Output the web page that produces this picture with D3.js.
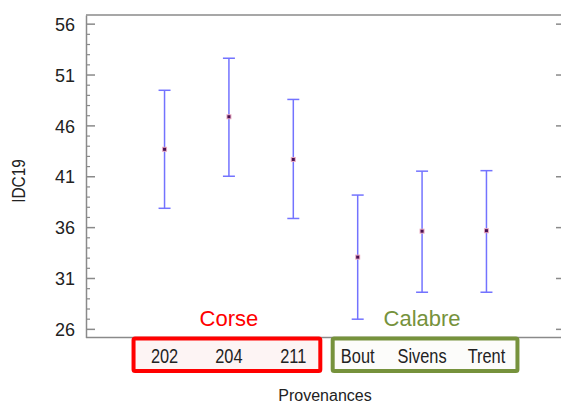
<!DOCTYPE html>
<html><head><meta charset="utf-8">
<script src="https://cdn.jsdelivr.net/npm/d3@7"></script>
<style>body{margin:0;background:#fff}svg{display:block}text{font-family:"Liberation Sans",Arial,sans-serif}</style>
</head><body>
<script>
const categories = ["202","204","211","Bout","Sivens","Trent"];
const means = [43.7, 46.9, 42.7, 33.1, 35.65, 35.7];
const upper = [49.5, 52.65, 48.6, 39.2, 41.55, 41.6];
const lower = [37.9, 41.05, 36.9, 27.0, 29.65, 29.65];
const yTicks = [26, 31, 36, 41, 46, 51, 56];
const groupNames = ["Corse", "Calabre"];
const groupMembers = [["202","204","211"], ["Bout","Sivens","Trent"]];
const yLabel = "IDC19";
const xLabel = "Provenances";

const W = 561, H = 403;
const L = 86, R = 565, T = 15, B = 337.5;
const svg = d3.select("body").append("svg").attr("width", W).attr("height", H);

const x = d3.scalePoint().domain(categories).range([L, R]).padding(1.22);
const y = d3.scaleLinear().domain([25.2, 56.9]).range([B, T]);

const axisCol = "#8a8a8a";
svg.append("line").attr("x1", L).attr("x2", R).attr("y1", T).attr("y2", T).attr("stroke", axisCol).attr("stroke-width", 1.5);
svg.append("line").attr("x1", L).attr("x2", R).attr("y1", B).attr("y2", B).attr("stroke", axisCol).attr("stroke-width", 1.5);

const minor = d3.range(26, 57, 1);
const gl = svg.append("g").attr("transform", `translate(${L},0)`)
  .call(d3.axisLeft(y).tickValues(yTicks).tickSize(0).tickPadding(11).tickFormat(d3.format("d")));
gl.select(".domain").attr("stroke", axisCol).attr("stroke-width", 1.5);
gl.selectAll("text").attr("font-size", 18).attr("fill", "#222").attr("dy", "0.34em");
gl.selectAll(".mj").data(yTicks).join("line").attr("x1", 0).attr("x2", 9).attr("y1", d => y(d)).attr("y2", d => y(d)).attr("stroke", axisCol).attr("stroke-width", 1.5);
gl.selectAll(".mn").data(minor.filter(v => !yTicks.includes(v))).join("line").attr("x1", 0).attr("x2", 4).attr("y1", d => y(d)).attr("y2", d => y(d)).attr("stroke", axisCol).attr("stroke-width", 1.2);
const gr = svg.append("g").attr("transform", `translate(${R},0)`)
  .call(d3.axisRight(y).tickValues(yTicks).tickSize(0).tickFormat(""));
gr.select(".domain").attr("stroke", axisCol).attr("stroke-width", 1.5);
gr.selectAll(".mj").data(yTicks).join("line").attr("x1", 0).attr("x2", -9).attr("y1", d => y(d)).attr("y2", d => y(d)).attr("stroke", axisCol).attr("stroke-width", 1.5);
gr.selectAll(".mn").data(minor.filter(v => !yTicks.includes(v))).join("line").attr("x1", 0).attr("x2", -4).attr("y1", d => y(d)).attr("y2", d => y(d)).attr("stroke", axisCol).attr("stroke-width", 1.2);

const barCol = "#7373ff";
const eb = svg.append("g");
categories.forEach((c, i) => {
  const cx = x(c);
  eb.append("line").attr("x1", cx).attr("x2", cx).attr("y1", y(upper[i])).attr("y2", y(lower[i])).attr("stroke", barCol).attr("stroke-width", 1.5);
  [upper[i], lower[i]].forEach(v => eb.append("line").attr("x1", cx - 6).attr("x2", cx + 6).attr("y1", y(v)).attr("y2", y(v)).attr("stroke", barCol).attr("stroke-width", 1.5));
  eb.append("rect").attr("x", cx - 2.5).attr("y", y(means[i]) - 2.5).attr("width", 5).attr("height", 5).attr("fill", "#e8a8c0");
  eb.append("rect").attr("x", cx - 1.5).attr("y", y(means[i]) - 1.5).attr("width", 3).attr("height", 3).attr("fill", "#4a1050");
});

const boxStroke = ["#ff0000", "#76923c"];
const boxFill = ["#fdf4f4", "#fcfcfa"];
const padL = [31, 25], padR = [27, 31];
groupMembers.forEach((mem, g) => {
  const x0 = x(mem[0]) - padL[g], x1 = x(mem[mem.length - 1]) + padR[g];
  svg.append("rect").attr("x", x0).attr("y", 338.5).attr("width", x1 - x0).attr("height", 32.5)
    .attr("fill", boxFill[g]).attr("stroke", boxStroke[g]).attr("stroke-width", 4).attr("rx", 1.5);
  svg.append("text").attr("x", (x(mem[0]) + x(mem[mem.length - 1])) / 2).attr("y", 326)
    .attr("text-anchor", "middle").attr("font-family", "Open Sans, Liberation Sans, sans-serif").attr("font-size", 22).attr("fill", boxStroke[g]).text(groupNames[g]);
});
svg.append("g").selectAll("text").data(categories).join("text")
  .attr("transform", d => `translate(${x(d)},362.5) scale(0.84,1)`).attr("text-anchor", "middle")
  .attr("font-size", 19.5).attr("fill", "#222").text(d => d);

svg.append("text").attr("x", 325).attr("y", 401).attr("text-anchor", "middle").attr("font-size", 16).attr("fill", "#222").text(xLabel);
svg.append("text").attr("transform", "translate(25,181) rotate(-90) scale(0.88,1)").attr("text-anchor", "middle").attr("font-size", 17.5).attr("fill", "#222").text(yLabel);
</script>
</body></html>
